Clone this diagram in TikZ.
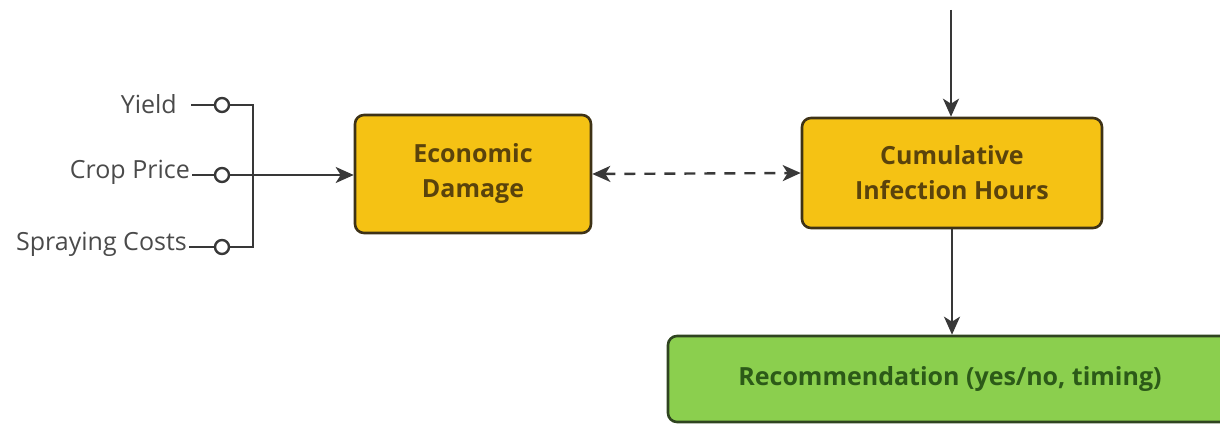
\documentclass[tikz,border=0pt]{standalone}
\usepackage{fontspec}
\setmainfont{Open Sans}
\usetikzlibrary{arrows.meta}
\definecolor{yfill}{HTML}{F5C214}
\definecolor{ydraw}{HTML}{3E3216}
\definecolor{ytext}{HTML}{5A430C}
\definecolor{gfill}{HTML}{8BCF4E}
\definecolor{gdraw}{HTML}{2F4420}
\definecolor{gtext}{HTML}{2C5A18}
\definecolor{lnk}{HTML}{383838}
\definecolor{lbl}{HTML}{4A4A4A}
\tikzset{
  ybox/.style={draw=ydraw, fill=yfill, line width=2.6pt, rounded corners=9pt,
    text=ytext, font=\fontsize{25}{35}\selectfont\bfseries, align=center, inner sep=0pt},
  gbox/.style={draw=gdraw, fill=gfill, line width=2.6pt, rounded corners=9pt,
    text=gtext, font=\fontsize{25}{35}\selectfont\bfseries, align=center, inner sep=0pt},
  lab/.style={text=lbl, font=\fontsize{25}{30}\selectfont, anchor=east, inner sep=0pt},
  port/.style={circle, draw=lnk, fill=white, line width=2.4pt, minimum size=14pt, inner sep=0pt},
  link/.style={draw=lnk, line width=2.4pt},
  tip/.style={},
  arr/.style={link, -{Stealth[length=18pt,width=16pt,inset=5pt]}},
  darr/.style={link, dash pattern=on 11pt off 9pt,
    {Stealth[length=18pt,width=16pt,inset=5pt]}-{Stealth[length=18pt,width=16pt,inset=5pt]}}
}
\begin{document}
\begin{tikzpicture}[x=1pt,y=-1pt]
\useasboundingbox (0,0) rectangle (1220,425);
% boxes
\node[ybox, minimum width=236pt, minimum height=118pt] (ed) at (473,174) {Economic\\Damage};
\node[ybox, minimum width=300pt, minimum height=110pt] (cih) at (952,173) {Cumulative\\Infection Hours};
\node[gbox, minimum width=564pt, minimum height=86pt] (rec) at (950,379) {Recommendation (yes/no, timing)};
% input labels
\node[lab] (yl) at (177,104) {Yield};
\node[lab] (cp) at (190,172) {Crop Price};
\node[lab] (sc) at (187,244) {Spraying Costs};
% ports
\node[port] (c1) at (222,105) {};
\node[port] (c2) at (222,175) {};
\node[port] (c3) at (222,247) {};
\coordinate (j1) at (253,105);
\coordinate (j3) at (253,247);
\coordinate (top) at (951,10);
% connectors
\draw[link] ([xshift=14pt]yl.east |- c1) -- (c1);
\draw[link] ([xshift=2pt]cp.east |- c2) -- (c2);
\draw[link] ([xshift=2pt]sc.east |- c3) -- (c3);
\draw[link] (c1) -- (j1) -- (j3) -- (c3);
\draw[arr] (c2) -- (ed.west |- c2);
\draw[darr] (ed.east) -- (cih.west);
\draw[arr] (top) -- (top |- cih.north);
\draw[arr] (cih.south) -- (cih.south |- rec.north);
\end{tikzpicture}
\end{document}
